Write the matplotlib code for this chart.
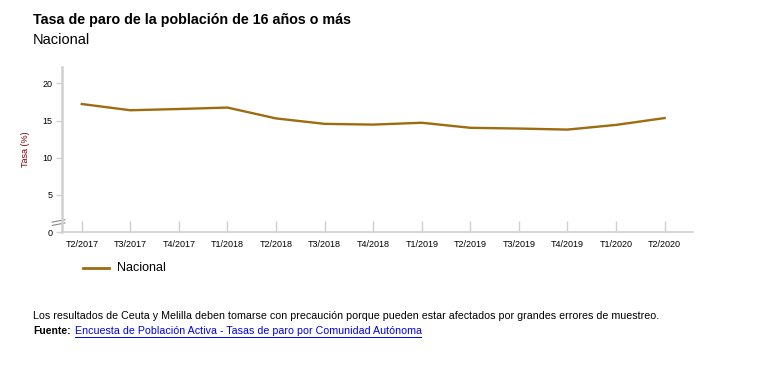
import matplotlib.pyplot as plt

plt.rcParams['font.family'] = ['Liberation Sans', 'DejaVu Sans']

trimestres = ["T2/2017", "T3/2017", "T4/2017", "T1/2018", "T2/2018", "T3/2018",
              "T4/2018", "T1/2019", "T2/2019", "T3/2019", "T4/2019", "T1/2020", "T2/2020"]
tasa_nacional = [17.22, 16.38, 16.55, 16.74, 15.28, 14.55, 14.45, 14.70,
                 14.02, 13.92, 13.78, 14.41, 15.33]
y_ticks = [0, 5, 10, 15, 20]

line_color = "#9e6b10"
grid_grey = "#d0d0d0"

fig = plt.figure(figsize=(7.63, 3.66), dpi=100)
ax = fig.add_axes([0.0817, 0.366, 0.908 - 0.0817, 0.817 - 0.366])

x = list(range(len(trimestres)))
ax.plot(x, tasa_nacional, color=line_color, lw=1.7)

ax.set_xlim(-0.4, 12.58)
ax.set_ylim(0, 22.2)
ax.set_xticks(x)
ax.set_xticklabels(trimestres, fontsize=6.5)
ax.set_yticks(y_ticks)
ax.set_yticklabels([str(v) for v in y_ticks], fontsize=6.5)

for s in ["top", "right"]:
    ax.spines[s].set_visible(False)
ax.spines["left"].set_color(grid_grey)
ax.spines["left"].set_linewidth(1.8)
ax.spines["bottom"].set_color(grid_grey)
ax.spines["bottom"].set_linewidth(1.2)
ax.tick_params(axis="x", direction="in", length=8, color=grid_grey, width=1, pad=6)
ax.tick_params(axis="y", direction="out", length=4, color=grid_grey, width=1, pad=3)

ax.set_ylabel("Tasa (%)", fontsize=6.5, color="#800000", labelpad=9)

# axis break mark near zero
brk = ax.transAxes
ax.plot([-0.008, 0.004], [0.035, 0.085], color="white", lw=5, transform=brk, clip_on=False)
ax.plot([-0.016, 0.004], [0.06, 0.075], color="#888888", lw=0.8, transform=brk, clip_on=False)
ax.plot([-0.016, 0.004], [0.04, 0.055], color="#888888", lw=0.8, transform=brk, clip_on=False)

fig.text(33 / 763, 1 - 20 / 366, "Tasa de paro de la población de 16 años o más",
         fontsize=10.3, fontweight="bold", va="center", ha="left")
fig.text(33 / 763, 1 - 40 / 366, "Nacional", fontsize=10.5, va="center", ha="left")

# legend
fig.lines.append(plt.Line2D([83 / 763, 109 / 763], [1 - 268 / 366] * 2,
                            color=line_color, lw=2, transform=fig.transFigure))
fig.text(117 / 763, 1 - 268 / 366, "Nacional", fontsize=9, va="center", ha="left")

fig.text(33 / 763, 1 - 316 / 366,
         "Los resultados de Ceuta y Melilla deben tomarse con precaución porque pueden estar afectados por grandes errores de muestreo.",
         fontsize=7.7, va="center", ha="left")
fig.text(33 / 763, 1 - 331 / 366, "Fuente:", fontsize=7.5, fontweight="bold", va="center", ha="left")
fig.text(75 / 763, 1 - 331 / 366, "Encuesta de Población Activa - Tasas de paro por Comunidad Autónoma",
         fontsize=7.65, va="center", ha="left", color="#0000ee")
fig.lines.append(plt.Line2D([75 / 763, 421 / 763], [1 - 336.5 / 366] * 2,
                            color="#0000ee", lw=0.7, transform=fig.transFigure))

fig.savefig("out.png", dpi=100)
